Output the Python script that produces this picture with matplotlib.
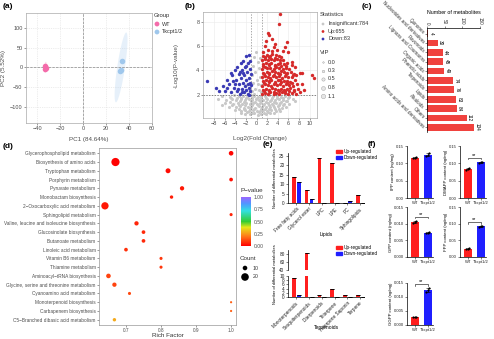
import numpy as np
import matplotlib
matplotlib.use('Agg')
import matplotlib.pyplot as plt
from matplotlib.colors import LinearSegmentedColormap
from matplotlib.patches import Rectangle

plt.rcParams['font.family'] = ['Liberation Sans', 'DejaVu Sans']
plt.rcParams['axes.linewidth'] = 0.5

# (a) PCA scores
wt_pc1 = [-33.2, -32.6, -33.0]
wt_pc2 = [2.5, -2.0, -4.0]
ko_pc1 = [33.5, 32.6, 32.0]
ko_pc2 = [15.0, -7.0, -10.0]

# (b) volcano points (log2 FC, -log10 p)
down_pts = [(-9.3, 3.1), (-7.6, 2.6), (-7.1, 2.3), (-6.3, 2.7), (-5.9, 2.3), (-5.6, 3.2), (-5.2, 2.9),
            (-4.9, 2.2), (-4.6, 3.6), (-4.3, 2.6), (-4.1, 4.0), (-3.9, 3.2), (-3.7, 2.3), (-3.6, 4.3),
            (-3.4, 3.7), (-3.3, 2.9), (-3.1, 2.1), (-3.0, 4.6), (-2.9, 3.4), (-2.8, 2.5), (-2.7, 4.0),
            (-2.6, 3.0), (-2.5, 4.8), (-2.4, 2.2), (-2.3, 3.6), (-2.2, 2.7), (-2.1, 4.3), (-2.0, 5.2),
            (-2.0, 3.2), (-1.9, 2.4), (-1.8, 3.9), (-1.7, 2.9), (-1.6, 4.6), (-1.6, 2.1), (-1.5, 3.4),
            (-1.5, 5.3), (-1.4, 2.6), (-1.3, 4.1), (-1.3, 3.0), (-1.2, 4.8), (-1.2, 2.3), (-1.1, 3.7),
            (-1.1, 2.8), (-3.5, 2.5), (-4.5, 3.1), (-2.5, 3.8), (-1.9, 4.4), (-4.0, 2.9), (-3.2, 3.9),
            (-2.7, 2.2), (-5.5, 2.6), (-4.8, 3.8), (-1.4, 2.0)]
up_pts = [(1.1, 2.05), (1.6, 2.18), (2.1, 2.10), (2.6, 2.22), (3.2, 2.08), (3.7, 2.15), (4.3, 2.03),
          (4.8, 2.20), (5.4, 2.12), (6.0, 2.06), (6.7, 2.19), (7.4, 2.10), (8.2, 2.25),
          (1.3, 2.40), (1.8, 2.50), (2.4, 2.38), (2.9, 2.55), (3.5, 2.45), (4.0, 2.42), (4.6, 2.52),
          (5.2, 2.37), (5.8, 2.48), (6.4, 2.55), (7.1, 2.40), (7.9, 2.50),
          (1.0, 2.75), (1.5, 2.85), (2.1, 2.80), (2.7, 2.72), (3.2, 2.90), (3.8, 2.78), (4.4, 2.86),
          (5.0, 2.74), (5.5, 2.88), (6.1, 2.80), (6.8, 2.70), (8.6, 2.85),
          (1.2, 3.10), (1.7, 3.20), (2.3, 3.12), (2.8, 3.25), (3.4, 3.08), (4.0, 3.18), (4.5, 3.22),
          (5.1, 3.10), (5.7, 3.15), (6.3, 3.05), (7.2, 3.20),
          (1.1, 3.45), (1.6, 3.55), (2.1, 3.50), (2.6, 3.42), (3.1, 3.58), (3.7, 3.48), (4.2, 3.52),
          (4.8, 3.40), (5.4, 3.56), (6.0, 3.46), (6.6, 3.50), (7.5, 3.60), (8.1, 3.80),
          (1.3, 3.80), (1.9, 3.90), (2.4, 3.82), (2.9, 3.95), (3.5, 3.85), (4.1, 3.78), (4.6, 3.92),
          (5.2, 3.86), (5.8, 3.80), (6.5, 3.88), (7.1, 3.75),
          (1.0, 4.15), (1.5, 4.25), (2.0, 4.18), (2.6, 4.22), (3.2, 4.12), (3.7, 4.28), (4.3, 4.20),
          (4.9, 4.16), (5.5, 4.24), (6.2, 4.10),
          (1.2, 4.50), (1.7, 4.60), (2.3, 4.52), (2.8, 4.62), (3.4, 4.48), (4.0, 4.56), (4.5, 4.64),
          (5.1, 4.50), (5.8, 4.58), (6.6, 4.45),
          (1.1, 4.85), (1.6, 4.95), (2.1, 4.88), (2.7, 4.92), (3.2, 4.84), (3.8, 4.98), (4.4, 4.90),
          (5.0, 4.86),
          (1.3, 5.20), (1.9, 5.30), (2.5, 5.22), (3.0, 5.35), (3.6, 5.25), (4.2, 5.18),
          (1.2, 5.55), (2.1, 5.65), (2.9, 5.60), (3.8, 5.70), (5.0, 5.60),
          (1.4, 2.28), (2.3, 2.32), (3.3, 2.26), (4.2, 2.34), (5.3, 2.30), (6.2, 2.28), (7.0, 2.33),
          (1.4, 2.98), (2.4, 3.02), (3.5, 2.96), (4.7, 3.04), (5.8, 2.97), (6.6, 3.00),
          (1.4, 3.68), (2.3, 3.72), (3.3, 3.66), (4.4, 3.74), (5.6, 3.70), (6.8, 3.65),
          (1.3, 4.38), (2.4, 4.42), (3.5, 4.36), (4.6, 4.40), (5.6, 4.34),
          (1.5, 5.08), (2.4, 5.12), (3.4, 5.06), (4.6, 5.10),
          (1.5, 6.0), (2.1, 7.1), (2.4, 6.9), (2.9, 6.6), (3.5, 6.2), (4.3, 7.8), (4.5, 8.6),
          (5.3, 5.95), (6.0, 5.5), (6.7, 4.7), (7.2, 4.3), (8.6, 3.8), (10.4, 3.6), (10.9, 3.4),
          (7.7, 2.9), (9.0, 2.4), (5.7, 6.3), (1.8, 6.4), (3.2, 5.9)]
ns_pts = [(-6.5, 1.90), (-5.1, 1.85), (-4.2, 1.95), (-3.3, 1.88), (-2.6, 1.92), (-1.8, 1.86), (-1.1, 1.96),
          (-0.4, 1.90), (0.3, 1.84), (0.9, 1.93), (1.6, 1.88), (2.4, 1.95), (3.1, 1.87), (3.9, 1.91),
          (4.6, 1.85), (5.4, 1.94), (6.2, 1.80),
          (-5.8, 1.60), (-4.7, 1.66), (-3.8, 1.55), (-3.0, 1.62), (-2.2, 1.58), (-1.5, 1.65), (-0.8, 1.57),
          (-0.1, 1.63), (0.5, 1.56), (1.2, 1.61), (1.9, 1.67), (2.7, 1.54), (3.4, 1.60), (4.2, 1.64),
          (5.0, 1.58), (5.8, 1.52), (6.8, 1.62),
          (-6.0, 1.30), (-4.4, 1.25), (-3.5, 1.34), (-2.7, 1.28), (-2.0, 1.36), (-1.3, 1.27), (-0.6, 1.33),
          (0.1, 1.24), (0.7, 1.35), (1.4, 1.29), (2.1, 1.31), (2.9, 1.26), (3.6, 1.34), (4.4, 1.30),
          (5.2, 1.22), (6.1, 1.28),
          (-5.2, 1.02), (-3.9, 0.98), (-3.1, 1.05), (-2.4, 0.96), (-1.7, 1.04), (-1.0, 1.00), (-0.3, 0.95),
          (0.4, 1.06), (1.0, 0.99), (1.7, 1.03), (2.5, 0.97), (3.2, 1.01), (4.0, 1.05), (4.8, 0.94),
          (5.6, 1.00),
          (-4.0, 0.72), (-2.9, 0.68), (-2.1, 0.75), (-1.4, 0.66), (-0.7, 0.74), (0.0, 0.70), (0.6, 0.65),
          (1.3, 0.73), (2.0, 0.69), (2.8, 0.76), (3.6, 0.67), (4.5, 0.71),
          (-2.2, 0.45), (-1.3, 0.40), (-0.5, 0.48), (0.2, 0.38), (0.9, 0.44), (1.7, 0.42), (2.6, 0.47),
          (-4.9, 1.75), (-3.6, 1.76), (-2.9, 1.73), (-1.9, 1.77), (-0.9, 1.74), (0.0, 1.76), (0.8, 1.72),
          (1.8, 1.77), (2.9, 1.74), (3.8, 1.76), (4.9, 1.73), (6.0, 1.75),
          (-5.0, 1.45), (-3.2, 1.46), (-2.4, 1.44), (-1.1, 1.47), (-0.2, 1.43), (0.9, 1.46), (1.7, 1.44),
          (2.5, 1.47), (3.3, 1.45), (4.7, 1.43), (5.5, 1.46),
          (-4.6, 1.15), (-3.3, 1.16), (-2.2, 1.14), (-0.9, 1.17), (0.3, 1.13), (1.2, 1.16), (2.3, 1.15),
          (3.1, 1.14), (4.2, 1.16), (5.0, 1.13),
          (-3.4, 0.85), (-2.4, 0.86), (-1.2, 0.84), (-0.4, 0.87), (0.8, 0.83), (1.6, 0.86), (2.4, 0.85),
          (3.4, 0.84), (4.2, 0.86),
          (-3.0, 0.55), (-1.8, 0.56), (-0.9, 0.54), (0.4, 0.57), (1.4, 0.53), (2.2, 0.56), (3.2, 0.55),
          (-0.8, 2.3), (-0.3, 2.5), (0.4, 2.4), (0.8, 2.8), (-0.6, 3.0), (0.1, 3.2), (0.6, 3.5),
          (-0.9, 3.6), (-0.2, 3.9), (0.5, 4.2), (-0.7, 4.4), (0.2, 4.7), (-0.4, 5.1), (0.7, 5.0),
          (-0.1, 5.5), (0.9, 2.2), (-0.5, 2.1), (0.3, 2.9), (-1.3, 2.6),
          (-7.2, 1.7), (-6.6, 1.2), (7.2, 1.5), (-1.9, 2.8), (1.4, 2.3)]
n_insig, n_up, n_down = 784, 655, 83
vip_levels = ['0.0', '0.3', '0.5', '0.8', '1.1']

# (c) metabolite classes
class_names = ['Quinones', 'Nucleotides and derivatives', 'Flavonoids', 'Lignans and Coumarins',
               'Organic acids', 'Phenolic acids', 'Terpenoids', 'Lipids', 'Alkaloids', 'Others',
               'Amino acids and derivatives']
class_counts = [4, 30, 44, 45, 49, 74, 76, 83, 84, 112, 134]

# (d) KEGG enrichment
pathways = ['Glycerophospholipid metabolism', 'Biosynthesis of amino acids', 'Tryptophan metabolism',
            'Porphyrin metabolism', 'Pyruvate metabolism', 'Monobactam biosynthesis',
            '2\u2212Oxocarboxylic acid metabolism', 'Sphingolipid metabolism',
            'Valine, leucine and isoleucine biosynthesis', 'Glucosinolate biosynthesis',
            'Butanoate metabolism', 'Linoleic acid metabolism', 'Vitamin B6 metabolism',
            'Thiamine metabolism', 'Aminoacyl\u2212tRNA biosynthesis',
            'Glycine, serine and threonine metabolism', 'Cyanoamino acid metabolism',
            'Monoterpenoid biosynthesis', 'Carbapenem biosynthesis',
            'C5\u2212Branched dibasic acid metabolism']
rich_factor = [1.0, 0.67, 0.82, 1.0, 0.86, 0.83, 0.64, 1.0, 0.73, 0.75, 0.75, 0.70, 0.80, 0.80,
               0.65, 0.667, 0.71, 1.0, 1.0, 0.667]
path_count = [10, 22, 11, 7, 9, 6, 19, 5, 9, 7, 7, 7, 5, 5, 10, 9, 5, 2, 2, 6]
path_p = [0.01, 0.004, 0.02, 0.03, 0.04, 0.05, 0.04, 0.06, 0.06, 0.07, 0.07, 0.08, 0.09, 0.09,
          0.11, 0.11, 0.12, 0.16, 0.16, 0.28]

# (e) differential lipids / terpenoids
lipid_classes = ['Free fatty acids', 'Glycerol ester', 'LPC', 'LPE', 'PC', 'Sphingolipids']
lipid_up = [14, 7, 24, 21, 0, 4]
lipid_down = [11, 2, 0, 0, 1, 0]
terp_classes = ['Monoterpenoids', 'Sesquiterpenoids', 'Diterpenoids', 'Triterpene',
                'Triterpene Saponin', 'Terpene']
terp_up = [9, 82, 1, 4, 1, 1]
terp_down = [1, 0, 0, 0, 0, 0]

# (f) prenyl diphosphate contents, three replicates per genotype
iso_names = ['IPP', 'DMAPP', 'GPP', 'FPP', 'GGPP']
iso_wt = [[0.114, 0.116, 0.117], [0.082, 0.085, 0.086], [0.0103, 0.0106, 0.0109],
          [0.024, 0.025, 0.026], [0.0027, 0.0028, 0.0029]]
iso_ko = [[0.120, 0.125, 0.130], [0.101, 0.103, 0.104], [0.0072, 0.0073, 0.0074],
          [0.090, 0.092, 0.093], [0.0118, 0.0125, 0.0133]]
iso_sig = [False, True, True, True, True]
genotypes = ['WT', 'Tkcpt1/2']

RED, BLUE = '#FF1F1F', '#1F1FFF'
W, H = 494, 339
fig = plt.figure(figsize=(W / 100, H / 100), dpi=100)


def box(l, t, r, b):
    return [l / W, 1 - b / H, (r - l) / W, (b - t) / H]


def tidy(ax, size=4.0, color='#4D4D4D', pad=1):
    ax.tick_params(labelsize=size, length=1.5, width=0.4, pad=pad, colors=color)


# ---------- (a)
ax = fig.add_axes(box(26, 13, 152, 123))
t = np.linspace(0, 2 * np.pi, 100)
for (cx, cy, maj, mnr, col) in [(-33, 0, (0.3, 14), (1.2, 0), '#F46BAA'),
                                (33, 0, (4.5, 88), (3.4, 0), '#9FC7EC')]:
    ex = cx + np.cos(t) * maj[0] + np.sin(t) * mnr[0]
    ey = cy + np.cos(t) * maj[1] + np.sin(t) * mnr[1]
    ax.fill(ex, ey, color=col, alpha=0.25, lw=0)
ax.scatter(wt_pc1, wt_pc2, s=16, color='#F46BAA', lw=0, zorder=3)
ax.scatter(ko_pc1, ko_pc2, s=16, color='#9FC7EC', lw=0, zorder=3)
ax.axhline(0, ls='--', color='#888888', lw=0.5)
ax.axvline(0, ls='--', color='#888888', lw=0.5)
ax.set_xlim(-50, 60)
ax.set_ylim(-140, 137)
ax.set_xticks(range(-40, 61, 20))
ax.set_yticks(range(-100, 101, 50))
ax.grid(True, ls=(0, (2, 2)), color='#DDDDDD', lw=0.4)
ax.set_axisbelow(True)
for s in ax.spines.values():
    s.set_color('#AAAAAA')
tidy(ax)
ax.set_xlabel('PC1 (84.64%)', fontsize=4.5, color='#4D4D4D')
ax.set_ylabel('PC2 (5.52%)', fontsize=4.5, color='#4D4D4D')
ax.xaxis.set_label_coords(0.5, -0.13)
ax.yaxis.set_label_coords(-0.16, 0.5)

# ---------- (b)
ax = fig.add_axes(box(203, 12, 317, 118))
ns = np.array(ns_pts)
up = np.array(up_pts)
dn = np.array(down_pts)
ax.scatter(ns[:, 0], ns[:, 1], s=5, color='#C8C8C8', lw=0, zorder=2)
ax.scatter(up[:, 0], up[:, 1], s=6, color='#D62A2A', lw=0, zorder=3)
ax.scatter(dn[:, 0], dn[:, 1], s=6, color='#3A3AB5', lw=0, zorder=3)
ax.axvline(-1, ls=(0, (2, 2)), color='#888888', lw=0.5)
ax.axvline(1, ls=(0, (2, 2)), color='#888888', lw=0.5)
ax.axhline(2, ls=(0, (2, 2)), color='#555555', lw=0.5)
ax.set_xlim(-10.1, 11.4)
ax.set_ylim(0.1, 8.8)
ax.set_xticks(range(-8, 11, 2))
ax.set_yticks([2, 4, 6, 8])
ax.grid(True, color='#EBEBEB', lw=0.4)
ax.set_axisbelow(True)
for s in ax.spines.values():
    s.set_color('#AAAAAA')
tidy(ax)
ax.set_xlabel('Log2(Fold Change)', fontsize=4.5, color='#4D4D4D')
ax.set_ylabel('-Log10(P-value)', fontsize=4.5, color='#4D4D4D')
ax.xaxis.set_label_coords(0.5, -0.17)
ax.yaxis.set_label_coords(-0.21, 0.5)

# ---------- (c)
ax = fig.add_axes(box(427, 28, 480, 132))
yy = np.arange(len(class_names))
ax.barh(yy, class_counts, height=0.72, color='#F0423E')
for i, v in enumerate(class_counts):
    ax.text(v + 1.5, i, str(v), rotation=-90, va='center', ha='left', fontsize=3.3)
ax.set_ylim(len(class_names) - 0.5, -0.6)
ax.set_xlim(0, 150)
ax.xaxis.tick_top()
ax.xaxis.set_label_position('top')
ax.set_xticks([0, 50, 100, 150])
ax.set_xticklabels(['0', '50', '100', '150'], rotation=-90)
ax.set_yticks(yy)
ax.set_yticklabels(class_names, rotation=-45, ha='right', va='center', rotation_mode='anchor')
ax.spines['right'].set_visible(False)
ax.spines['bottom'].set_visible(False)
tidy(ax, 3.3, '#333333')
ax.set_xlabel('Number of metabolites', fontsize=3.8, labelpad=2)

# ---------- (d)
pcmap = LinearSegmentedColormap.from_list(
    'pv', [(0, '#FF0000'), (0.2, '#FF7A1A'), (0.38, '#E6E61A'), (0.5, '#33CC33'),
           (0.72, '#33E0E0'), (0.86, '#4D99FF'), (1, '#9966FF')])


def dot_size(c):
    return ((1.6 + 0.3 * c) * 0.72) ** 2


ax = fig.add_axes(box(99, 148, 236, 325))
py = np.arange(len(pathways))
sc = ax.scatter(rich_factor, py, s=[dot_size(c) for c in path_count], c=path_p,
                cmap=pcmap, vmin=0, vmax=1, lw=0, zorder=3)
ax.set_ylim(len(pathways) - 0.4, -0.6)
ax.set_xlim(0.623, 1.014)
ax.set_xticks([0.7, 0.8, 0.9, 1.0])
ax.set_yticks(py)
ax.set_yticklabels(pathways)
for s in ax.spines.values():
    s.set_color('#999999')
tidy(ax, 3.4)
ax.set_xlabel('Rich Factor', fontsize=4.5, color='#333333')
ax.xaxis.set_label_coords(0.5, -0.045)

cax = fig.add_axes(box(241, 197, 251, 246))
cb = fig.colorbar(sc, cax=cax)
cb.outline.set_visible(False)
cb.set_ticks([0, 0.25, 0.5, 0.75, 1.0])
cb.set_ticklabels(['0.00', '0.25', '0.50', '0.75', '1.00'])
cax.tick_params(labelsize=3.6, length=0, pad=2, colors='#4D4D4D')

# ---------- (e) lipids
ax = fig.add_axes(box(288, 153, 364, 203))
ex_ = np.arange(len(lipid_classes))
ax.bar(ex_ - 0.19, lipid_up, width=0.28, color=RED, yerr=np.zeros(len(ex_)), capsize=1.2,
       error_kw=dict(lw=0.4, capthick=0.5))
ax.bar(ex_ + 0.19, lipid_down, width=0.28, color=BLUE, yerr=np.zeros(len(ex_)), capsize=1.2,
       error_kw=dict(lw=0.4, capthick=0.5))
ax.set_xlim(-0.65, 5.3)
ax.set_ylim(0, 26.5)
ax.set_yticks(range(0, 26, 5))
ax.set_xticks(ex_)
ax.set_xticklabels(lipid_classes, rotation=45, ha='right', rotation_mode='anchor')
ax.spines[['top', 'right']].set_visible(False)
tidy(ax, 3.4, '#222222')
ax.set_xlabel('Lipids', fontsize=3.6)
ax.set_ylabel('Number of differential metabolites', fontsize=2.9)
ax.yaxis.set_label_coords(-0.15, 0.5)
ax.xaxis.set_label_coords(0.5, -0.58)

# ---------- (e) terpenoids, broken axis
ax_hi = fig.add_axes(box(288, 250, 364, 270))
ax_lo = fig.add_axes(box(288, 276, 364, 297))
tx = np.arange(len(terp_classes))
for a in (ax_hi, ax_lo):
    a.bar(tx - 0.19, terp_up, width=0.28, color=RED, yerr=np.zeros(len(tx)), capsize=1.2,
          error_kw=dict(lw=0.4, capthick=0.5))
    a.bar(tx + 0.19, terp_down, width=0.28, color=BLUE, yerr=np.zeros(len(tx)), capsize=1.2,
          error_kw=dict(lw=0.4, capthick=0.5))
    a.set_xlim(-0.65, 5.3)
    a.spines[['top', 'right']].set_visible(False)
    tidy(a, 3.4, '#222222')
ax_hi.set_ylim(40, 90)
ax_hi.set_yticks([40, 60, 80])
ax_hi.spines['bottom'].set_visible(False)
ax_hi.set_xticks([])
ax_lo.set_ylim(0, 10)
ax_lo.set_yticks(range(0, 11, 2))
ax_lo.set_xticks(tx)
ax_lo.set_xticklabels(terp_classes, rotation=45, ha='right', rotation_mode='anchor')
ax_lo.set_xlabel('Terpenoids', fontsize=3.6)
ax_lo.xaxis.set_label_coords(0.5, -1.35)
ax_lo.set_ylabel('Number of differential metabolites', fontsize=2.9)
ax_lo.yaxis.set_label_coords(-0.15, 1.1)

# ---------- (f)
f_boxes = [(407, 146, 433, 198), (460, 146, 486, 198), (407, 207, 433, 257),
           (460, 207, 486, 257), (407, 283, 433, 325)]
for k, name in enumerate(iso_names):
    ax = fig.add_axes(box(*f_boxes[k]))
    reps = [iso_wt[k], iso_ko[k]]
    means = [np.mean(r) for r in reps]
    sds = [np.std(r, ddof=1) for r in reps]
    ax.bar([0, 1], means, width=0.6, color=[RED, BLUE], yerr=sds, capsize=1.2,
           error_kw=dict(lw=0.4, capthick=0.4))
    for i, r in enumerate(reps):
        ax.scatter([i - 0.12, i, i + 0.12], r, s=2.5, color='black', lw=0, zorder=4)
    top = 0.015 if max(means) < 0.02 else 0.15
    ax.set_ylim(0, top)
    ax.set_xlim(-0.6, 1.4)
    ticks = np.linspace(0, top, 4)
    ax.set_yticks(ticks)
    ax.set_yticklabels(['%.3f' % v if top < 0.02 else '%.2f' % v for v in ticks])
    ax.set_xticks([0, 1])
    ax.set_xticklabels(genotypes)
    ax.spines[['top', 'right']].set_visible(False)
    tidy(ax, 3.0, '#222222', pad=0.8)
    ax.set_ylabel(name + ' content (ng/mg)', fontsize=3.1)
    ax.yaxis.set_label_coords(-0.52 if top < 0.02 else -0.45, 0.5)
    if iso_sig[k]:
        hb = max(max(r) for r in reps) + top * 0.08
        ax.plot([0, 0, 1, 1], [hb - top * 0.03, hb, hb, hb - top * 0.03], color='black', lw=0.4)
        ax.text(0.5, hb, '**', ha='center', va='bottom', fontsize=4)

# ---------- overlay for panel letters and hand-placed legends
ov = fig.add_axes([0, 0, 1, 1], facecolor='none')
ov.set_xlim(0, W)
ov.set_ylim(H, 0)
ov.axis('off')
for lab, x, y in [('(a)', 3, 6), ('(b)', 185, 6), ('(c)', 362, 6), ('(d)', 3, 146),
                  ('(e)', 263, 145), ('(f)', 368, 145)]:
    ov.text(x, y, lab, fontsize=6, fontweight='bold', va='center', ha='left')

# group legend (a)
ov.text(154, 16, 'Group', fontsize=4.2, color='#333333', va='center')
ov.scatter([157, 157], [24, 32], s=12, color=['#F46BAA', '#9FC7EC'], lw=0)
ov.text(162, 24, 'WT', fontsize=4, color='#333333', va='center')
ov.text(162, 32, 'Tkcpt1/2', fontsize=4, color='#333333', va='center')

# statistics / VIP legend (b)
ov.text(320, 15, 'Statistics', fontsize=4.2, color='#333333', va='center')
ov.scatter([323, 323, 323], [24, 31.5, 39], s=4, color=['#C8C8C8', '#D62A2A', '#3A3AB5'], lw=0)
for y, txt in [(24, 'Insignificant:%d' % n_insig), (31.5, 'Up:%d' % n_up), (39, 'Down:%d' % n_down)]:
    ov.text(328, y, txt, fontsize=4, color='#333333', va='center')
ov.text(320, 53, 'VIP', fontsize=4.2, color='#333333', va='center')
for j, lev in enumerate(vip_levels):
    y = 62 + j * 8.5
    ov.scatter(323, y, s=1.2 + 2.2 * j, facecolor='#E6E6E6', edgecolor='#999999', lw=0.3)
    ov.text(328, y, lev, fontsize=4, color='#333333', va='center')

# p-value / count legend (d)
ov.text(240, 191, 'P\u2212value', fontsize=4.5, color='#333333', va='center')
ov.text(240, 258, 'Count', fontsize=4.5, color='#333333', va='center')
ov.scatter([245, 245], [268, 277], s=[dot_size(10), dot_size(20)], color='black', lw=0)
ov.text(253, 268, '10', fontsize=3.8, color='#333333', va='center')
ov.text(253, 277, '20', fontsize=3.8, color='#333333', va='center')

# up/down legends (e)
for y0 in (151, 247):
    ov.add_patch(Rectangle((336, y0 - 1.5), 6, 3, color=RED))
    ov.add_patch(Rectangle((336, y0 + 5), 6, 3, color=BLUE))
    ov.text(344, y0, 'Up-regulated', fontsize=3.4, va='center')
    ov.text(344, y0 + 6.5, 'Down-regulated', fontsize=3.4, va='center')

fig.savefig('out.png', dpi=100, facecolor='white')
